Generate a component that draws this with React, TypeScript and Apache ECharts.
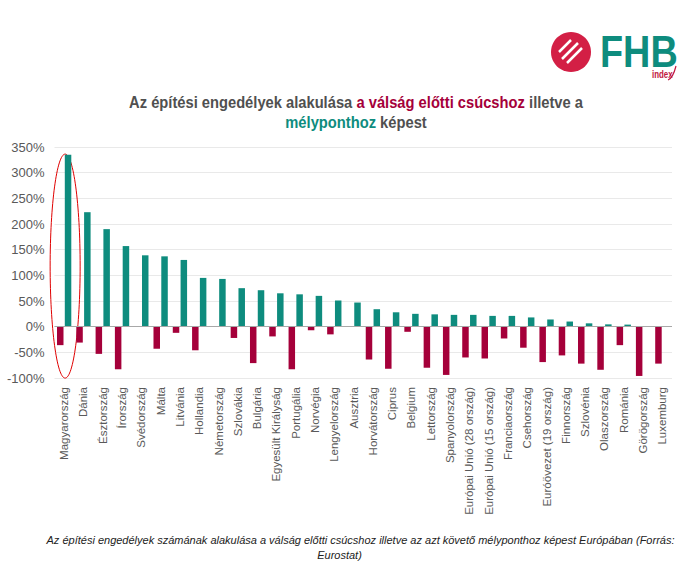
import React, { useEffect, useRef } from "react";
import * as echarts from "echarts";

const categories = [
  "Magyarország", "Dánia", "Észtország", "Írország", "Svédország", "Málta", "Litvánia", "Hollandia",
  "Németország", "Szlovákia", "Bulgária", "Egyesült Királyság", "Portugália", "Norvégia", "Lengyelország",
  "Ausztria", "Horvátország", "Ciprus", "Belgium", "Lettország", "Spanyolország", "Európai Unió (28 ország)",
  "Európai Unió (15 ország)", "Franciaország", "Csehország", "Euróövezet (19 ország)", "Finnország",
  "Szlovénia", "Olaszország", "Románia", "Görögország", "Luxemburg",
];

// change relative to the pre-crisis peak (%)
const peakValues = [
  -36, -31, -53, -83, 0, -43, -12, -46, 0, -22, -71, -19, -83, -7, -15,
  0, -64, -82, -10, -80, -94, -60, -62, -23, -41, -69, -56, -72, -84, -36, -96, -72,
];

// change relative to the subsequent trough (%)
const troughValues = [
  335, 223, 190, 157, 139, 137, 130, 95, 93, 75, 71, 65, 63, 60, 51,
  47, 34, 28, 25, 24, 23, 23, 21, 21, 18, 14, 10, 6.5, 4.5, 4, 0, 0,
];

const TEAL = "#0E8C7E";
const CRIMSON = "#A5003A";
const GRAY = "#595959";
const TITLE_GRAY = "#505050";

export default function App() {
  const ref = useRef<HTMLDivElement>(null);

  useEffect(() => {
    if (!ref.current) return;
    const chart = echarts.init(ref.current, undefined, { renderer: "svg" });
    const option: any = {
      animation: false,
      backgroundColor: "#ffffff",
      grid: { left: 54.5, right: 27, top: 147, bottom: 191, containLabel: false },
      xAxis: {
        type: "category",
        data: categories,
        axisLine: { show: false, onZero: false },
        axisTick: { show: false },
        axisLabel: {
          rotate: 90,
          interval: 0,
          margin: 9,
          color: GRAY,
          fontSize: 11.5,
          fontFamily: "Liberation Sans, Arial, sans-serif",
        },
      },
      yAxis: {
        type: "value",
        min: -100,
        max: 350,
        interval: 50,
        axisLine: { show: false },
        axisTick: { show: false },
        axisLabel: {
          formatter: "{value}%",
          color: GRAY,
          fontSize: 13,
          margin: 10,
          fontFamily: "Liberation Sans, Arial, sans-serif",
        },
        splitLine: { lineStyle: { color: "#e9e9e9", width: 1 } },
      },
      series: [
        {
          name: "válság előtti csúcshoz",
          type: "bar",
          data: peakValues,
          barWidth: 6.5,
          barGap: "20%",
          itemStyle: { color: CRIMSON },
          markLine: {
            silent: true,
            symbol: "none",
            label: { show: false },
            lineStyle: { color: "#a8a8a8", type: "solid", width: 1 },
            data: [{ yAxis: 0 }],
          },
        },
        {
          name: "mélyponthoz",
          type: "bar",
          data: troughValues,
          barWidth: 6.5,
          barGap: "20%",
          itemStyle: { color: TEAL },
        },
      ],
    };
    chart.setOption(option);

    const c = chart.convertToPixel({ xAxisIndex: 0, yAxisIndex: 0 }, [categories[0], 118]) as number[];
    const ellipseX = c[0] + 1;
    const ellipseY = c[1];

    const titleFont = "Liberation Sans, Arial, sans-serif";
    chart.setOption({
      graphic: [
        {
          type: "ellipse",
          shape: { cx: ellipseX, cy: ellipseY, rx: 15, ry: 112 },
          style: { fill: "none", stroke: "#E00000", lineWidth: 1 },
          silent: true,
        },
        {
          type: "group",
          x: 356,
          y: 102,
          scaleX: 0.92,
          children: [
            {
              type: "text",
              x: 0,
              y: 0,
              style: {
                text: "{g|Az építési engedélyek alakulása }{r|a válság előtti csúcshoz}{g| illetve a}",
                align: "center",
                verticalAlign: "middle",
                rich: {
                  g: { fill: TITLE_GRAY, fontSize: 16, fontWeight: "bold", fontFamily: titleFont },
                  r: { fill: CRIMSON, fontSize: 16, fontWeight: "bold", fontFamily: titleFont },
                },
              },
            },
            {
              type: "text",
              x: 0,
              y: 20,
              style: {
                text: "{t|mélyponthoz}{g| képest}",
                align: "center",
                verticalAlign: "middle",
                rich: {
                  g: { fill: TITLE_GRAY, fontSize: 16, fontWeight: "bold", fontFamily: titleFont },
                  t: { fill: TEAL, fontSize: 16, fontWeight: "bold", fontFamily: titleFont },
                },
              },
            },
          ],
        },
        // Logo
        {
          type: "circle",
          shape: { cx: 571, cy: 52, r: 20 },
          style: { fill: "#D31F45" },
        },
        {
          type: "line",
          shape: { x1: 559, y1: 52, x2: 571, y2: 40 },
          style: { stroke: "#fff", lineWidth: 2.5 },
        },
        {
          type: "line",
          shape: { x1: 562, y1: 59, x2: 578, y2: 43 },
          style: { stroke: "#fff", lineWidth: 2.5 },
        },
        {
          type: "line",
          shape: { x1: 567, y1: 63, x2: 582, y2: 48 },
          style: { stroke: "#fff", lineWidth: 2.5 },
        },
        {
          type: "text",
          x: 600,
          y: 52,
          scaleX: 0.86,
          style: {
            text: "FHB",
            fill: TEAL,
            fontSize: 44,
            fontWeight: "bold",
            fontFamily: titleFont,
            verticalAlign: "middle",
            align: "left",
          },
        },
        {
          type: "text",
          x: 652,
          y: 74,
          scaleX: 0.72,
          style: {
            text: "index",
            fill: "#C2173F",
            fontSize: 11,
            fontWeight: "bold",
            fontFamily: titleFont,
            verticalAlign: "middle",
            align: "left",
          },
        },
        {
          type: "bezierCurve",
          shape: { x1: 668, y1: 80, x2: 676, y2: 66, cpx1: 673, cpy1: 78 },
          style: { stroke: "#C2173F", lineWidth: 1.2, fill: "none" },
        },
        // Caption
        {
          type: "text",
          x: 360.5,
          y: 540,
          style: {
            text: "Az építési engedélyek számának alakulása a válság előtti csúcshoz illetve az azt követő mélyponthoz képest Európában (Forrás:",
            fill: "#222222",
            fontSize: 11,
            fontStyle: "italic",
            fontFamily: titleFont,
            align: "center",
            verticalAlign: "middle",
          },
        },
        {
          type: "text",
          x: 339.5,
          y: 555,
          style: {
            text: "Eurostat)",
            fill: "#222222",
            fontSize: 11,
            fontStyle: "italic",
            fontFamily: titleFont,
            align: "center",
            verticalAlign: "middle",
          },
        },
      ],
    });

    return () => chart.dispose();
  }, []);

  return (
    <div
      ref={ref}
      style={{ position: "absolute", left: 0, top: 0, width: 699, height: 569, background: "#fff" }}
    />
  );
}
